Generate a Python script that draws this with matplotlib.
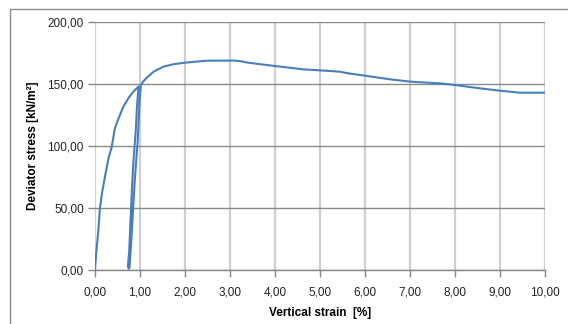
import numpy as np
import matplotlib
matplotlib.use("Agg")
import matplotlib.pyplot as plt
from matplotlib.ticker import FuncFormatter, MultipleLocator
from matplotlib.patches import Rectangle

##### DATA #####

# vertical strain [%]
strain = [0.00, 0.03, 0.07, 0.11, 0.16, 0.22, 0.30, 0.37, 0.44, 0.52, 0.63, 0.75, 0.85, 0.97,
          0.95, 0.93, 0.91, 0.89, 0.87, 0.85, 0.82, 0.79, 0.76, 0.73,
          0.75, 0.77, 0.80, 0.84, 0.88, 0.92, 0.95, 0.97, 0.99, 1.02,
          1.07, 1.15, 1.30, 1.52, 1.75, 2.00, 2.48, 3.10, 3.25, 3.40, 4.00, 4.63, 5.22, 5.44,
          5.63, 6.00, 6.55, 7.00, 7.67, 8.00, 8.55, 9.00, 9.44, 10.00]
# deviator stress [kN/m2]
stress = [0.0, 15.0, 30.0, 50.0, 63.0, 75.0, 90.0, 99.0, 114.0, 122.0, 131.7, 139.0, 143.8, 148.0,
          140.0, 130.0, 115.0, 105.0, 95.0, 85.0, 65.0, 40.0, 15.0, 2.7,
          1.0, 2.7, 20.0, 45.0, 70.0, 90.0, 105.0, 120.0, 135.0, 149.0,
          152.0, 155.0, 159.9, 164.0, 166.0, 167.2, 168.8, 168.9, 168.3, 167.2, 164.5, 161.8, 160.5, 159.9,
          158.6, 156.7, 153.8, 151.9, 150.5, 149.2, 146.5, 144.6, 143.0, 143.0]

plt.rcParams['font.family'] = ['Liberation Sans', 'DejaVu Sans']

fig = plt.figure(figsize=(5.68, 3.24), dpi=100)
ax = fig.add_axes([95/568, 54/324, 450/568, 248/324])

###!### outer chart frame (only left and top edges are inside the picture)
fig.patches.append(Rectangle((10/568, -0.1), 1.2, (324-9)/324 + 0.1,
                             transform=fig.transFigure, fill=False,
                             edgecolor='#8c8c8c', lw=1.0))

ax.plot(strain, stress, color='#4a7ebb', lw=1.5, zorder=3)

ax.set_xlim(0, 10)
ax.set_ylim(0, 200)
ax.xaxis.set_major_locator(MultipleLocator(1))
ax.yaxis.set_major_locator(MultipleLocator(50))
fmt = FuncFormatter(lambda v, p: f"{v:.2f}".replace('.', ','))
ax.xaxis.set_major_formatter(fmt)
ax.yaxis.set_major_formatter(fmt)

for s in ['top', 'right', 'left']:
    ax.spines[s].set_visible(False)
ax.spines['bottom'].set_color('#868686')
ax.spines['bottom'].set_linewidth(1.0)

ax.grid(axis='x', color='#cfcfcf', lw=1.6)
ax.grid(axis='y', color='#8a8a8a', lw=1.0)
ax.yaxis.get_gridlines()[0].set_visible(False)
ax.yaxis.get_gridlines()[-1].set_visible(False)
ax.set_axisbelow(True)

ax.tick_params(axis='both', labelsize=8.5, colors='#868686', labelcolor='#222222',
               length=5, width=1.0)
ax.tick_params(axis='x', pad=7)
ax.tick_params(axis='y', pad=3)

ax.set_xlabel('Vertical strain  [%]', fontsize=8.5, fontweight='bold', labelpad=6)
ax.set_ylabel('Deviator stress [kN/m²]', fontsize=8.5, fontweight='bold', labelpad=6)

fig.savefig('out.png', dpi=100)
